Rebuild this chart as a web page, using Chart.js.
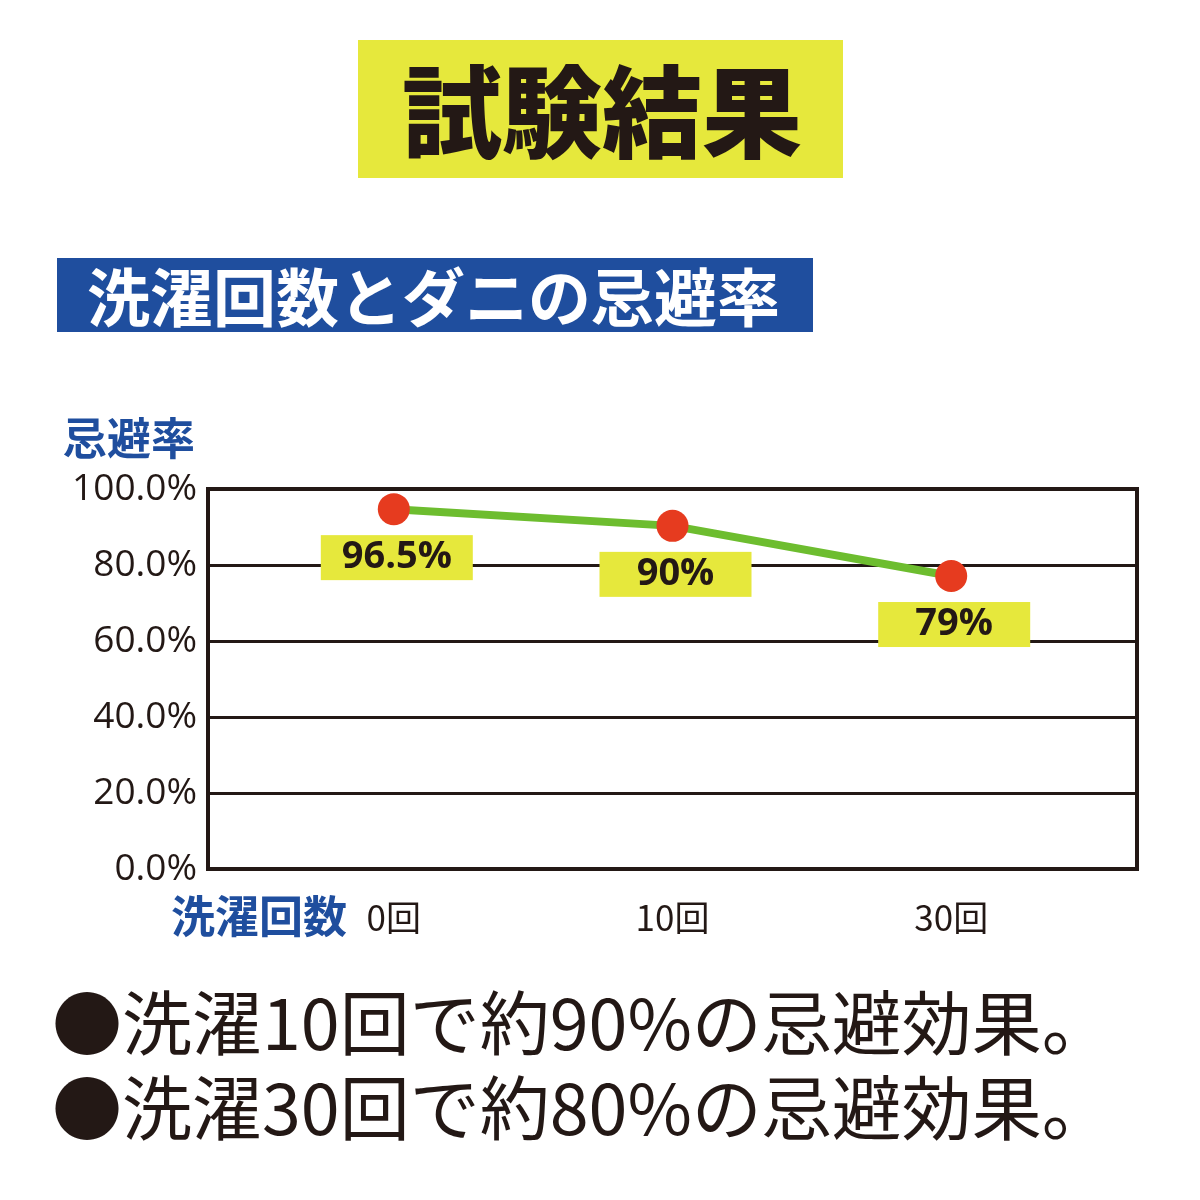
<!DOCTYPE html>
<html><head><meta charset="utf-8">
<script src="https://cdn.jsdelivr.net/npm/chart.js@4.4.1/dist/chart.umd.min.js"></script>
<style>html,body{margin:0;padding:0;background:#fff}canvas{display:block}</style>
</head><body>
<canvas id="c" width="1200" height="1200"></canvas>
<script>
const mainTitle = '試験結果';
const subTitle = '洗濯回数とダニの忌避率';
const yTitle = '忌避率';
const xTitle = '洗濯回数';
const categories = ['0回', '10回', '30回'];
const plottedValues = [94.7, 90.3, 77.1];
const valueLabels = ['96.5%', '90%', '79%'];
const yTicks = [0, 20, 40, 60, 80, 100];
const notes = ['●洗濯10回で約90%の忌避効果。', '●洗濯30回で約80%の忌避効果。'];

const INK = '#231815';
const BLUE = '#1f4e9e';
const YELLOW = '#e6e83c';
const CJK = '"Noto Sans CJK JP", "Noto Sans", sans-serif';
const LAT = '"Open Sans", "Noto Sans", sans-serif';

const decor = {
  id: 'decor',
  beforeDraw(chart) {
    const ctx = chart.ctx;
    ctx.save();
    ctx.fillStyle = '#fff';
    ctx.fillRect(0, 0, chart.width, chart.height);
    // main title box
    ctx.fillStyle = YELLOW;
    ctx.fillRect(358, 40, 485, 138);
    ctx.fillStyle = INK;
    ctx.font = '900 100px ' + CJK;
    ctx.textAlign = 'center';
    ctx.textBaseline = 'middle';
    ctx.fillText(mainTitle, 602, 112);
    // subtitle box
    ctx.fillStyle = BLUE;
    ctx.fillRect(57, 258, 756, 74);
    ctx.fillStyle = '#fff';
    ctx.font = 'bold 63px ' + CJK;
    ctx.textAlign = 'left';
    ctx.fillText(subTitle, 87, 297);
    // axis titles
    ctx.fillStyle = BLUE;
    ctx.font = 'bold 44px ' + CJK;
    ctx.fillText(yTitle, 63, 438);
    ctx.fillText(xTitle, 171, 916);
    // notes
    ctx.fillStyle = INK;
    ctx.font = '400 70px ' + CJK;
    ctx.fillText(notes[0], 52, 1023);
    ctx.fillText(notes[1], 52, 1108);
    ctx.restore();
  },
  beforeDatasetsDraw(chart) {
    const {ctx, chartArea: a} = chart;
    ctx.save();
    ctx.strokeStyle = INK;
    ctx.lineWidth = 4;
    ctx.strokeRect(a.left, a.top, a.right - a.left, a.bottom - a.top);
    ctx.restore();
  },
  afterDatasetsDraw(chart) {
    const ctx = chart.ctx;
    const meta = chart.getDatasetMeta(0);
    ctx.save();
    meta.data.forEach((pt, i) => {
      const w = 152, h = 45;
      const top = pt.y + 26;
      ctx.fillStyle = YELLOW;
      ctx.fillRect(pt.x - w / 2 + 3, top, w, h);
      ctx.fillStyle = INK;
      ctx.font = 'bold 38px ' + LAT;
      ctx.textAlign = 'center';
      ctx.textBaseline = 'middle';
      ctx.fillText(valueLabels[i], pt.x + 3, top + h / 2);
    });
    ctx.restore();
  }
};

new Chart(document.getElementById('c'), {
  type: 'line',
  data: {
    datasets: [{
      data: plottedValues.map((v, i) => ({x: i, y: v})),
      borderColor: '#6dbd2f',
      borderWidth: 8,
      pointRadius: 16,
      pointBackgroundColor: '#e63b1f',
      pointBorderWidth: 0,
      clip: false,
      tension: 0
    }]
  },
  options: {
    responsive: false,
    animation: false,
    layout: {padding: {top: 489, right: 63, left: 0, bottom: 0}},
    plugins: {legend: {display: false}, tooltip: {enabled: false}},
    scales: {
      x: {
        type: 'linear',
        min: -2 / 3,
        max: 8 / 3,
        grid: {display: false, drawTicks: false},
        border: {display: false},
        afterBuildTicks: s => { s.ticks = categories.map((c, i) => ({value: i})); },
        afterFit: s => { s.height = 331; },
        ticks: {
          padding: 28,
          color: INK,
          font: {family: '"Noto Sans CJK JP", sans-serif', size: 35},
          callback: v => categories[v]
        }
      },
      y: {
        min: 0,
        max: 100,
        afterBuildTicks: s => { s.ticks = yTicks.map(v => ({value: v})); },
        afterFit: s => { s.width = 208; },
        grid: {color: INK, lineWidth: 3, drawTicks: false},
        border: {display: false},
        ticks: {
          padding: 11,
          color: INK,
          font: {family: LAT, size: 37},
          callback: v => v.toFixed(1) + '%'
        }
      }
    }
  },
  plugins: [decor]
});
</script>
</body></html>
